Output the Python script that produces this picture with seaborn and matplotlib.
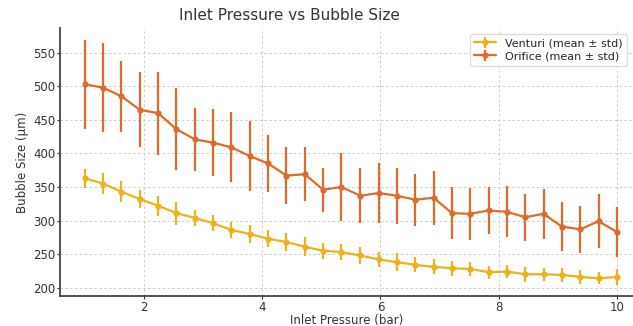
import numpy as np
import pandas as pd
import matplotlib
matplotlib.use("Agg")
import matplotlib.pyplot as plt
import seaborn as sns
from matplotlib.legend_handler import HandlerTuple

# Inlet pressure settings (bar)
pressure = [1.00, 1.31, 1.62, 1.93, 2.24, 2.55, 2.86, 3.17, 3.48, 3.79,
            4.10, 4.41, 4.72, 5.03, 5.34, 5.66, 5.97, 6.28, 6.59, 6.90,
            7.21, 7.52, 7.83, 8.14, 8.45, 8.76, 9.07, 9.38, 9.69, 10.00]

# Venturi nozzle: mean and std of bubble size (µm)
venturi_mean = [363, 355, 343, 332, 322, 311, 304, 296, 286, 280,
                273, 268, 261, 255, 253, 248, 242, 238, 234, 231,
                229, 228, 223, 224, 220, 220, 219, 216, 214, 216]
venturi_std = [14, 16, 16, 14, 15, 17, 12, 12, 12, 13,
               13, 14, 14, 12, 12, 12, 11, 13, 11, 11,
               11, 10, 10, 10, 11, 10, 10, 11, 9, 12]

# Orifice plate: mean and std of bubble size (µm)
orifice_mean = [503, 498, 485, 465, 460, 436, 421, 416, 409, 396,
                385, 367, 369, 346, 350, 337, 341, 337, 331, 334,
                311, 310, 315, 313, 305, 310, 291, 287, 299, 283]
orifice_std = [66, 66, 53, 56, 62, 61, 47, 50, 52, 52,
               43, 43, 40, 33, 50, 41, 44, 42, 39, 40,
               39, 39, 35, 38, 35, 37, 36, 35, 40, 37]

series = ["Venturi (mean ± std)", "Orifice (mean ± std)"]
colors = ["#EDB120", "#DE6B2C"]

df = pd.concat([
    pd.DataFrame({"pressure": pressure, "size": venturi_mean,
                  "std": venturi_std, "series": series[0]}),
    pd.DataFrame({"pressure": pressure, "size": orifice_mean,
                  "std": orifice_std, "series": series[1]}),
], ignore_index=True)

sns.set_theme(style="whitegrid")
plt.rcParams["font.family"] = ["DejaVu Sans"]

fig = plt.figure(figsize=(6.33, 3.26), dpi=100)
ax = fig.add_axes([0.0948, 0.092, 0.905, 0.822])

palette = dict(zip(series, colors))
sns.lineplot(data=df, x="pressure", y="size", hue="series", palette=palette,
             marker="o", markersize=4.5, markeredgewidth=0, linewidth=1.6,
             legend=False, ax=ax)

handles = []
for name, line in zip(series, ax.lines[:2]):
    sub = df[df["series"] == name]
    eb = ax.errorbar(sub["pressure"], sub["size"], yerr=sub["std"], fmt="none",
                     ecolor=palette[name], elinewidth=1.6, capsize=0)
    handles.append((line, eb))

ax.set_xlim(0.58, 10.27)
ax.set_ylim(187.6, 586.8)
ax.set_xticks([2, 4, 6, 8, 10])
ax.set_yticks([200, 250, 300, 350, 400, 450, 500, 550])

ax.set_title("Inlet Pressure vs Bubble Size", fontsize=11, color="#333333",
             pad=6, x=0.401)
ax.set_xlabel("Inlet Pressure (bar)", fontsize=8.5, color="#333333", labelpad=0)
ax.set_ylabel("Bubble Size (µm)", fontsize=8.5, color="#333333", labelpad=3)
ax.tick_params(axis="both", labelsize=8.5, colors="#333333", length=2.5,
               width=0.8, pad=1, left=True, bottom=True)

ax.grid(True, color="#cccccc", linestyle=(0, (2.5, 2.5)), linewidth=0.7)
for side in ["top", "right"]:
    ax.spines[side].set_visible(False)
for side in ["left", "bottom"]:
    ax.spines[side].set_color("#444444")
    ax.spines[side].set_linewidth(1.3)

ax.legend(handles, series, handler_map={tuple: HandlerTuple(ndivide=1)},
          loc="upper right", fontsize=8, frameon=True, edgecolor="#dddddd",
          framealpha=1.0, borderpad=0.4, handlelength=2.0, labelspacing=0.3,
          bbox_to_anchor=(1.0, 1.0))

fig.savefig("out.png", dpi=100)
